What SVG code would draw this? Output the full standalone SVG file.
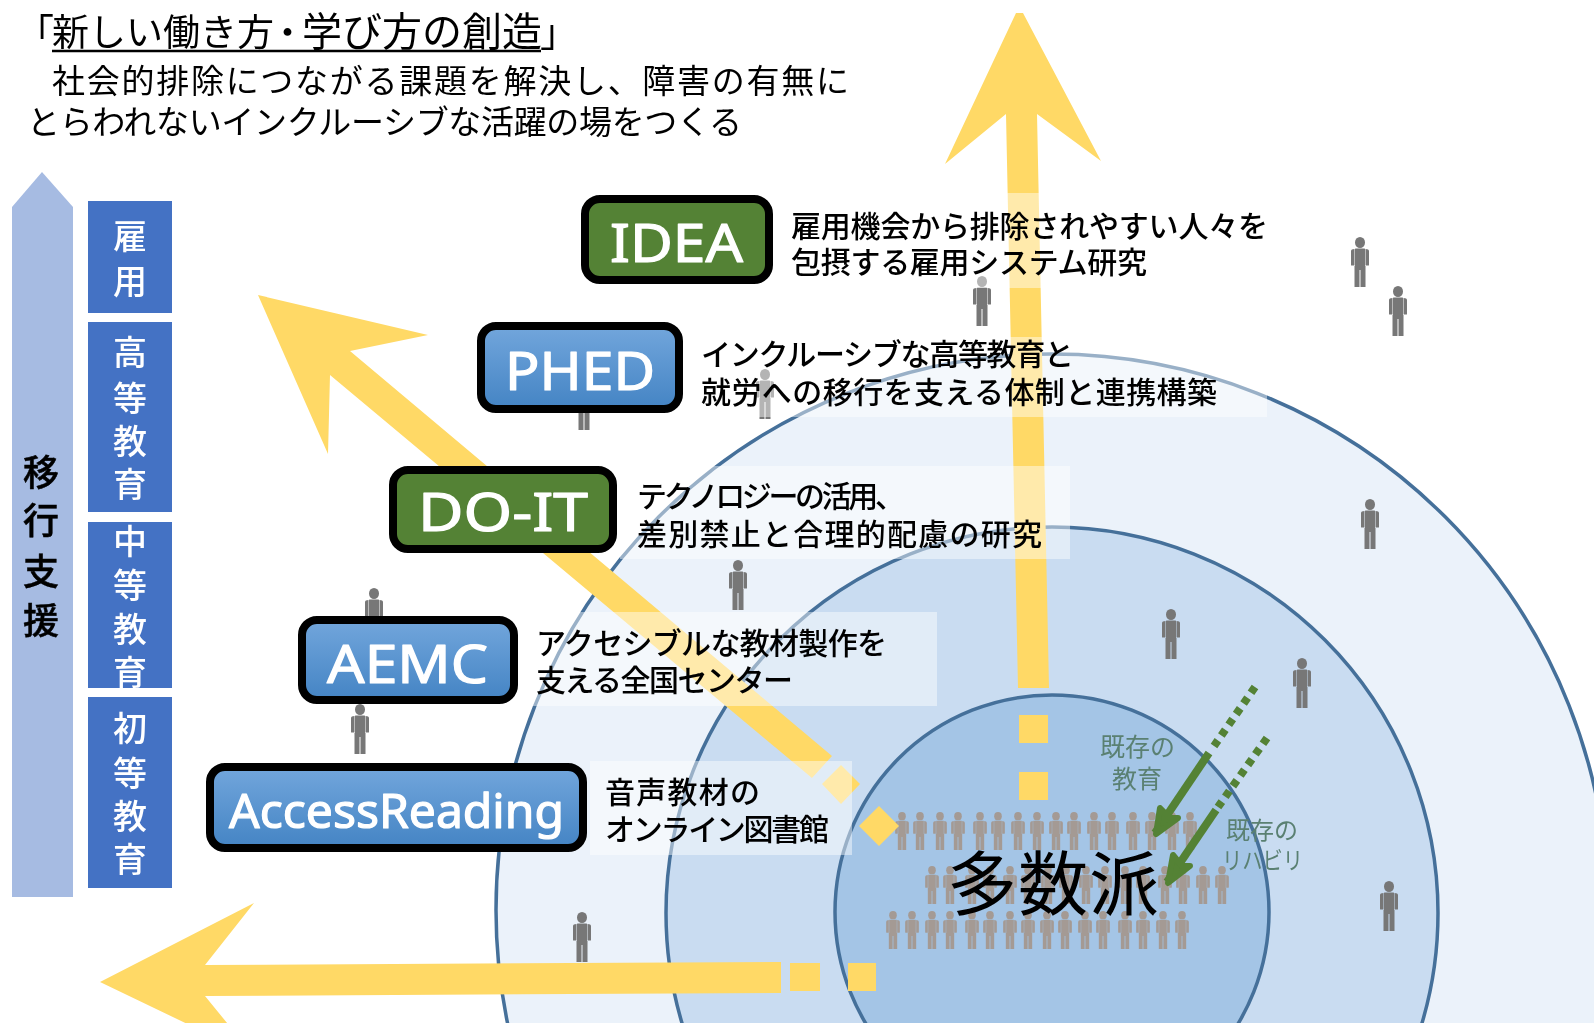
<svg xmlns="http://www.w3.org/2000/svg" width="1594" height="1023" viewBox="0 0 1594 1023">
<style>
text{font-family:"Noto Sans CJK JP","Noto Sans",sans-serif;fill:#000}
.t{font-size:38px}
.d{font-size:30px;font-weight:500}
.v{font-size:34px;fill:#fff;text-anchor:middle;font-weight:500}
.m{font-size:36px;font-weight:500;text-anchor:middle;stroke:#000;stroke-width:.5}
.l{font-family:"Noto Sans",sans-serif;font-weight:400;fill:#fff;stroke:#fff;stroke-width:1.2;stroke-linejoin:round}
.y{fill:#FFD966}
.ring{stroke:#45709A;stroke-width:3.500}
.veil{fill:#fff;fill-opacity:.45}
.n{stroke:#000;stroke-width:8}
.p{fill:#777}
.c{fill:#A49A94}
.g{font-size:25px;fill:#5A8072}
.gl{stroke:#548235;fill:none;stroke-width:8}
</style>
<defs>
<linearGradient id="bl" x1="0" y1="0" x2="0" y2="1"><stop offset="0" stop-color="#72A6DC"/><stop offset="1" stop-color="#4484C4"/></linearGradient>
<filter id="soft" x="-5%" y="-5%" width="110%" height="110%"><feGaussianBlur stdDeviation=".5"/></filter>
<filter id="softer" x="-5%" y="-5%" width="110%" height="110%"><feGaussianBlur stdDeviation=".6"/></filter>
<symbol id="person" viewBox="0 0 18 50" overflow="visible">
<ellipse cx="9" cy="5.500" rx="5" ry="5.500"/>
<path d="M4.500 11.500H13.500Q14 11.500 14 12V29H14.500V50H9.500V33H8.500V50H3.500V29H4V12Q4 11.500 4.500 11.500Z"/>
<path d="M3.500 12V28.500H0.500Q0 28.500 0 28V14Q0 12 3.500 12ZM14.500 12V28.500H17.500Q18 28.500 18 28V14Q18 12 14.500 12Z"/>
</symbol>
<clipPath id="mid"><rect x="88" y="522" width="84" height="166"/></clipPath>
</defs>
<rect width="1594" height="1023" fill="#fff"/>
<g id="rings">
<circle class="ring" cx="1052" cy="910" r="556" fill="#EBF2FA"/>
<circle class="ring" cx="1052" cy="913" r="386" fill="#C9DCF1"/>
<circle class="ring" cx="1052" cy="912" r="217" fill="#A4C5E6"/>
</g>
<g id="people" class="p" filter="url(#soft)">
<use href="#person" x="1351" y="237" width="18" height="50"/>
<use href="#person" x="1389" y="286" width="18" height="50"/>
<use href="#person" x="973" y="276" width="18" height="50"/>
<use href="#person" x="756" y="369" width="18" height="50"/>
<use href="#person" x="575" y="380" width="18" height="50"/>
<use href="#person" x="729" y="560" width="18" height="50"/>
<use href="#person" x="1361" y="499" width="18" height="50"/>
<use href="#person" x="1162" y="609" width="18" height="50"/>
<use href="#person" x="1293" y="658" width="18" height="50"/>
<use href="#person" x="1380" y="881" width="18" height="50"/>
<use href="#person" x="573" y="912" width="18" height="50"/>
<use href="#person" x="351" y="704" width="18" height="50"/>
<use href="#person" x="365" y="588" width="18" height="50"/>
</g>
<g id="crowd" class="c" filter="url(#softer)">
<use href="#person" x="895" y="812" width="14" height="38"/><use href="#person" x="913" y="812" width="14" height="38"/><use href="#person" x="933" y="812" width="14" height="38"/><use href="#person" x="951" y="812" width="14" height="38"/><use href="#person" x="973" y="812" width="14" height="38"/><use href="#person" x="991" y="812" width="14" height="38"/><use href="#person" x="1011" y="812" width="14" height="38"/><use href="#person" x="1030" y="812" width="14" height="38"/><use href="#person" x="1049" y="812" width="14" height="38"/><use href="#person" x="1067" y="812" width="14" height="38"/><use href="#person" x="1087" y="812" width="14" height="38"/><use href="#person" x="1105" y="812" width="14" height="38"/><use href="#person" x="1126" y="812" width="14" height="38"/><use href="#person" x="1145" y="812" width="14" height="38"/><use href="#person" x="1165" y="812" width="14" height="38"/><use href="#person" x="1183" y="812" width="14" height="38"/>
<use href="#person" x="925" y="866" width="14" height="38"/><use href="#person" x="943" y="866" width="14" height="38"/><use href="#person" x="965" y="866" width="14" height="38"/><use href="#person" x="983" y="866" width="14" height="38"/><use href="#person" x="1003" y="866" width="14" height="38"/><use href="#person" x="1021" y="866" width="14" height="38"/><use href="#person" x="1041" y="866" width="14" height="38"/><use href="#person" x="1059" y="866" width="14" height="38"/><use href="#person" x="1079" y="866" width="14" height="38"/><use href="#person" x="1098" y="866" width="14" height="38"/><use href="#person" x="1118" y="866" width="14" height="38"/><use href="#person" x="1136" y="866" width="14" height="38"/><use href="#person" x="1158" y="866" width="14" height="38"/><use href="#person" x="1176" y="866" width="14" height="38"/><use href="#person" x="1196" y="866" width="14" height="38"/><use href="#person" x="1215" y="866" width="14" height="38"/>
<use href="#person" x="886" y="911" width="14" height="38"/><use href="#person" x="905" y="911" width="14" height="38"/><use href="#person" x="925" y="911" width="14" height="38"/><use href="#person" x="943" y="911" width="14" height="38"/><use href="#person" x="965" y="911" width="14" height="38"/><use href="#person" x="983" y="911" width="14" height="38"/><use href="#person" x="1003" y="911" width="14" height="38"/><use href="#person" x="1021" y="911" width="14" height="38"/><use href="#person" x="1040" y="911" width="14" height="38"/><use href="#person" x="1058" y="911" width="14" height="38"/><use href="#person" x="1078" y="911" width="14" height="38"/><use href="#person" x="1096" y="911" width="14" height="38"/><use href="#person" x="1118" y="911" width="14" height="38"/><use href="#person" x="1136" y="911" width="14" height="38"/><use href="#person" x="1156" y="911" width="14" height="38"/><use href="#person" x="1175" y="911" width="14" height="38"/>
</g>
<g id="connectors">
<g class="y">
<polygon points="1016,13 1023,13 1101,161 1037,114 1049,688 1018,688 1006,114 945,164"/>
<rect x="1019" y="715" width="29" height="28"/><rect x="1019" y="772" width="29" height="28"/>
<polygon points="258,295 428,335 350,351 832,756 812,778 330,375 328,454"/>
<polygon points="841,765 860,784 841,804 822,784"/><polygon points="879,806 899,826 879,846 859,826"/>
<polygon points="100,982 254,903 205,965 781,962 781,993 205,996 254,1056"/>
<rect x="790" y="963" width="30" height="28"/><rect x="848" y="963" width="28" height="28"/>
</g>
<g class="gl">
<path d="M1255 687L1214 746" stroke-dasharray="7 6"/>
<path d="M1209 753L1155 833"/>
<path d="M1267 738L1218 807" stroke-dasharray="7 6"/>
<path d="M1216 810L1167 882"/>
</g>
<g fill="#548235" stroke="#548235" stroke-width="6" stroke-linejoin="round">
<polygon points="1156,834 1160,808 1170,818 1178,818"/>
<polygon points="1168,883 1173,855 1182,866 1190,866"/>
</g>
</g>
<g id="veils">
<rect class="veil" x="778" y="193" width="494" height="95"/>
<rect class="veil" x="683" y="337" width="584" height="80"/>
<rect class="veil" x="620" y="466" width="450" height="93"/>
<rect class="veil" x="518" y="612" width="419" height="94"/>
<rect class="veil" x="590" y="761" width="262" height="94"/>
</g>
<g id="title">
<text class="t" y="46"><tspan x="16">「</tspan><tspan x="52" style="font-size:37px">新しい働き方</tspan><tspan x="269" style="font-size:37px">・</tspan><tspan x="302" style="font-size:40px">学び方の創造</tspan><tspan x="540">」</tspan></text>
<line x1="52" y1="51" x2="541" y2="51" stroke="#000" stroke-width="2.500"/>
<text x="52" y="93" style="font-size:33px" textLength="797" lengthAdjust="spacing">社会的排除につながる課題を解決し、障害の有無に</text>
<text x="27" y="134" style="font-size:33px" textLength="715" lengthAdjust="spacing">とらわれないインクルーシブな活躍の場をつくる</text>
</g>
<g id="ladder">
<polygon points="42,172 73,207 73,897 12,897 12,207" fill="#A6BBE2"/>
<text class="m" x="41" y="486">移</text><text class="m" x="41" y="534">行</text><text class="m" x="41" y="585">支</text><text class="m" x="41" y="634">援</text>
<g id="stage-employment"><rect x="88" y="201" width="84" height="112" fill="#4472C4"/><text class="v" x="130" y="249">雇</text><text class="v" x="130" y="294">用</text></g>
<g id="stage-higher"><rect x="88" y="322" width="84" height="190" fill="#4472C4"/><text class="v" x="130" y="365">高</text><text class="v" x="130" y="411">等</text><text class="v" x="130" y="454">教</text><text class="v" x="130" y="497">育</text></g>
<g id="stage-secondary"><rect x="88" y="522" width="84" height="166" fill="#4472C4"/><g clip-path="url(#mid)"><text class="v" x="130" y="554">中</text><text class="v" x="130" y="598">等</text><text class="v" x="130" y="642">教</text><text class="v" x="130" y="685">育</text></g></g>
<g id="stage-primary"><rect x="88" y="697" width="84" height="191" fill="#4472C4"/><text class="v" x="130" y="741">初</text><text class="v" x="130" y="786">等</text><text class="v" x="130" y="829">教</text><text class="v" x="130" y="872">育</text></g>
</g>
<g id="idea"><rect class="n" x="585" y="199" width="184" height="81" rx="15" fill="#548235"/><text class="l" x="610" y="262" font-size="53" textLength="133" lengthAdjust="spacingAndGlyphs">IDEA</text>
<text class="d" x="791" y="237" textLength="477">雇用機会から排除されやすい人々を</text><text class="d" x="791" y="273" textLength="356">包摂する雇用システム研究</text></g>
<g id="phed"><rect class="n" x="481" y="326" width="198" height="83" rx="15" fill="url(#bl)"/><text class="l" x="505" y="390" font-size="53" textLength="150" lengthAdjust="spacingAndGlyphs">PHED</text>
<text class="d" x="701" y="365" textLength="373">インクルーシブな高等教育と</text><text class="d" x="701" y="403" textLength="516">就労への移行を支える体制と連携構築</text></g>
<g id="do-it"><rect class="n" x="393" y="470" width="220" height="79" rx="15" fill="#548235"/><text class="l" x="418" y="531" font-size="53" textLength="170" lengthAdjust="spacingAndGlyphs">DO-IT</text>
<text class="d" x="637" y="507" textLength="268">テクノロジーの活用、</text><text class="d" x="637" y="545" textLength="405">差別禁止と合理的配慮の研究</text></g>
<g id="aemc"><rect class="n" x="302" y="620" width="212" height="80" rx="15" fill="url(#bl)"/><text class="l" x="327" y="683" font-size="53" textLength="161" lengthAdjust="spacingAndGlyphs">AEMC</text>
<text class="d" x="536" y="654" textLength="351">アクセシブルな教材製作を</text><text class="d" x="536" y="691" textLength="257">支える全国センター</text></g>
<g id="accessreading"><rect class="n" x="210" y="767" width="373" height="81" rx="15" fill="url(#bl)"/><text class="l" x="229" y="828" font-size="48" textLength="335" lengthAdjust="spacingAndGlyphs">AccessReading</text>
<text class="d" x="605" y="803" textLength="155">音声教材の</text><text class="d" x="605" y="840" textLength="224">オンライン図書館</text></g>
<g id="majority"><text x="947" y="910" style="font-size:70px" textLength="212">多数派</text>
<text class="g" x="1100" y="756">既存の</text><text class="g" x="1112" y="788">教育</text>
<text class="g" x="1226" y="839" style="font-size:24px">既存の</text><text class="g" x="1222" y="869" style="font-size:24px" textLength="81" lengthAdjust="spacingAndGlyphs">リハビリ</text></g>
</svg>
